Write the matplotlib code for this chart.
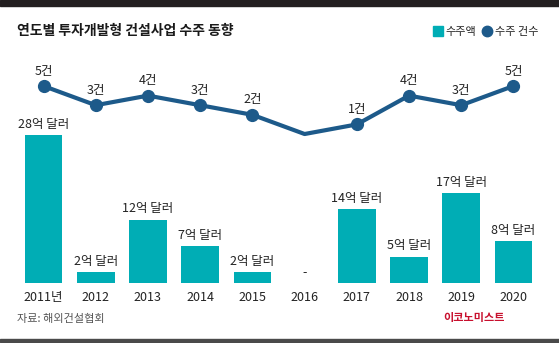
"""
연도별 투자개발형 건설사업 수주 동향: 수주액(막대)과 수주 건수(선)
"""
import matplotlib
matplotlib.use('Agg')
import matplotlib.pyplot as plt
from matplotlib.patches import Rectangle
from matplotlib.lines import Line2D

plt.rcParams['font.family'] = ['Noto Sans CJK KR', 'DejaVu Sans']

years = ['2011년', '2012', '2013', '2014', '2015', '2016', '2017', '2018', '2019', '2020']
amounts = [28, 2, 12, 7, 2, 0, 14, 5, 17, 8]     # 억 달러
counts = [5, 3, 4, 3, 2, 0, 1, 4, 3, 5]           # 건

teal = '#00adb5'
navy = '#1d5a8a'

fig = plt.figure(figsize=(5.59, 3.43), dpi=100)
fig.patch.set_facecolor('white')

# 윗쪽 검은 띠와 아래쪽 회색 선
fig.patches.append(Rectangle((0, 1 - 6 / 343), 1, 6 / 343, transform=fig.transFigure,
                             color='#231f20', zorder=0))
fig.patches.append(Rectangle((0, 1 / 343), 1, 3 / 343, transform=fig.transFigure,
                             color='#4a4a4a', zorder=0))

ax = fig.add_axes([17 / 559, 60 / 343, 523 / 559, 223 / 343])
x = list(range(len(years)))

ax.bar(x, amounts, width=0.72, color=teal, zorder=2)
for xi, v in zip(x, amounts):
    label = f'{v}억 달러' if v else '-'
    ax.annotate(label, (xi, v), xytext=(0, 3), textcoords='offset points',
                ha='center', va='bottom', fontsize=9, color='#222222')

ax.set_xlim(-0.508, 9.508)
ax.set_ylim(0, 42.2)
ax.set_xticks(x)
ax.set_xticklabels(years, fontsize=9, color='#222222')
ax.tick_params(axis='x', length=0, pad=6)
ax.set_yticks([])
for s in ax.spines.values():
    s.set_visible(False)

# 수주 건수 선
ax2 = ax.twinx()
ax2.plot(x, counts, color=navy, linewidth=3, zorder=3, solid_capstyle='round')
mx = [xi for xi, c in zip(x, counts) if c]
my = [c for c in counts if c]
ax2.plot(mx, my, linestyle='none', marker='o', markersize=8.5, color=navy, zorder=4)
for xi, c in zip(mx, my):
    ax2.annotate(f'{c}건', (xi, c), xytext=(0, 6), textcoords='offset points',
                 ha='center', va='bottom', fontsize=9, color='#222222')
ax2.set_ylim(-15.52, 7.71)
ax2.set_yticks([])
for s in ax2.spines.values():
    s.set_visible(False)

fig.text(17 / 559, 1 - 31 / 343, '연도별 투자개발형 건설사업 수주 동향',
         fontsize=10, fontweight='bold', color='#1a1a1a', va='center')

handles = [
    Line2D([], [], linestyle='none', marker='s', markersize=7.5, color=teal),
    Line2D([], [], linestyle='none', marker='o', markersize=7.5, color=navy),
]
fig.legend(handles, ['수주액', '수주 건수'], loc='center right',
           bbox_to_anchor=(544 / 559, 1 - 32 / 343), ncol=2, frameon=False,
           fontsize=8, handlelength=0.8, handletextpad=0.3, columnspacing=0.6,
           borderpad=0, labelcolor='#222222')

fig.text(17 / 559, 1 - 319 / 343, '자료: 해외건설협회', fontsize=8,
         color='#555555', va='center')
fig.text(505 / 559, 1 - 318 / 343, '이코노미스트', fontsize=8, fontweight='bold',
         color='#c8102e', va='center', ha='right')

fig.savefig('out.png', dpi=100)
